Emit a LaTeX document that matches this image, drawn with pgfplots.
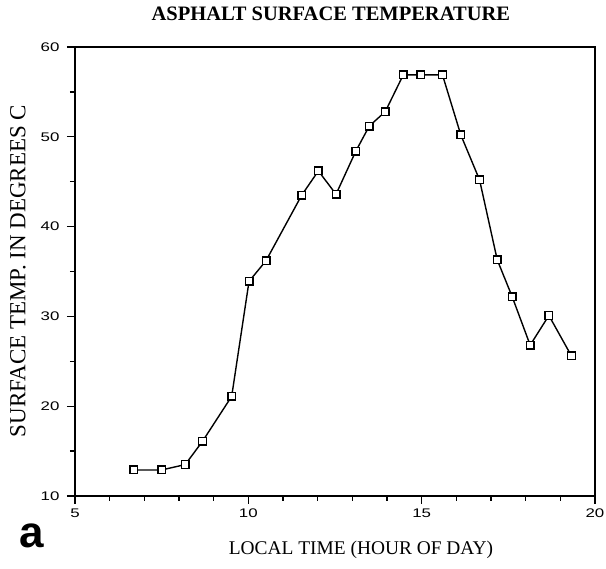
\documentclass[border=0pt]{standalone}
\usepackage{pgfplots}
\pgfplotsset{compat=1.18}
\usepackage{fontspec}
\setmainfont{Liberation Serif}
\newfontfamily\helv{Liberation Sans}
\newfontfamily\helvw[FakeStretch=1.35]{Liberation Sans}

\begin{document}
\begin{tikzpicture}
\useasboundingbox (-75pt,-73pt) rectangle (531pt,496pt);
\begin{axis}[
  at={(0pt,0pt)}, anchor=south west,
  scale only axis,
  width=520pt, height=449pt,
  xmin=5, xmax=20, ymin=10, ymax=60,
  xtick={5,10,15,20}, ytick={10,20,...,60},
  minor x tick num=4, minor y tick num=1,
  tick align=outside, xtick pos=left, ytick pos=left,
  major tick length=8pt, minor tick length=5pt,
  axis line style={line width=1.7pt},
  every tick/.style={line width=1.3pt, black},
  /pgf/number format/assume math mode=true,
  xticklabel style={font=\helvw\fontsize{12.5}{12.5}\selectfont, yshift=-1pt},
  yticklabel style={font=\helvw\fontsize{12.5}{12.5}\selectfont, xshift=-4pt},
  title={ASPHALT SURFACE TEMPERATURE},
  title style={font=\bfseries\fontsize{20.5}{20.5}\selectfont, at={(axis description cs:0.492,1)}, anchor=center, yshift=27pt},
  xlabel={LOCAL TIME (HOUR OF DAY)},
  xlabel style={font=\fontsize{19.4}{19.4}\selectfont, at={(axis description cs:0.55,0)}, anchor=center, yshift=-54pt},
  ylabel={SURFACE TEMP. IN DEGREES C},
  ylabel style={font=\fontsize{23}{23}\selectfont, at={(axis description cs:-0.1096,0.501)}, anchor=center},
  clip=false,
]
\addplot[black, line width=1.4pt, mark=square*, mark size=3.8pt,
  mark options={fill=white, line width=1.4pt}] coordinates {
(6.70,12.9) (7.50,12.9) (8.18,13.5) (8.68,16.1) (9.52,21.1)
(10.02,33.9) (10.51,36.2) (11.54,43.5) (12.02,46.2) (12.53,43.6)
(13.10,48.4) (13.49,51.2) (13.95,52.8) (14.47,56.9) (14.98,56.9)
(15.60,56.9) (16.13,50.2) (16.67,45.2) (17.18,36.3) (17.61,32.2)
(18.13,26.8) (18.67,30.1) (19.32,25.6)
};
\draw[line width=2.6pt] (axis cs:10.28,60) -- (axis cs:16.57,60);
\node[font=\helv\bfseries\fontsize{44}{44}\selectfont] at ([xshift=-43pt,yshift=-40pt]axis description cs:0,0) {a};
\end{axis}
\end{tikzpicture}
\end{document}
